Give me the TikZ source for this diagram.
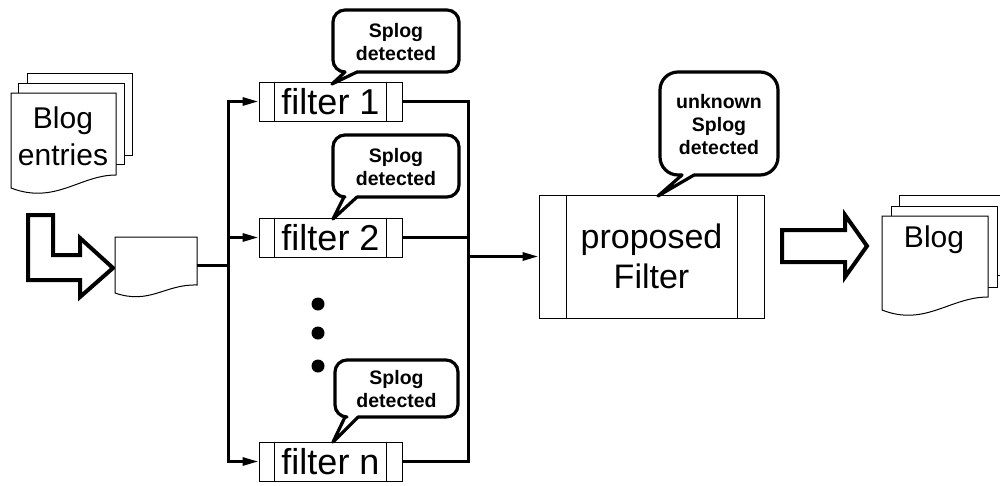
\documentclass[tikz,border=0pt]{standalone}
\usepackage{fontspec}
\setmainfont{Liberation Sans}
\usetikzlibrary{arrows.meta,calc}

% speech bubble: #1 left, #2 top, #3 right, #4 bottom, #5/#6 tail base x, #7 tip, #8 corner radius
\newcommand\SpeechBubble[8]{%
  \fill[white,rounded corners=#8] (#1,#2) rectangle (#3,#4);
  \fill[white] (#5,#4) -- #7 -- (#6,#4) -- cycle;
  \draw[bubbleline,rounded corners=#8] (#5,#4) -- (#1,#4) -- (#1,#2) -- (#3,#2) -- (#3,#4) -- (#6,#4);
  \draw[bubbleline] (#5,#4) -- #7 -- (#6,#4);
}

\begin{document}
\begin{tikzpicture}[x=1pt,y=-1pt,
  page/.style={draw=black,line width=1pt,fill=white,line join=miter},
  filterbox/.style={draw=black,line width=1pt,fill=white,minimum width=143pt,minimum height=39pt,
    inner sep=0pt,font=\fontsize{36}{40}\selectfont},
  bigfilter/.style={draw=black,line width=1pt,fill=white,minimum width=225pt,minimum height=123pt,
    inner sep=0pt,align=center,font=\fontsize{34}{40}\selectfont},
  innerline/.style={line width=1pt},
  bubbleline/.style={line width=3.2pt,line cap=round,line join=round},
  calltext/.style={inner sep=0pt,align=center,font=\bfseries\fontsize{19.5}{23}\selectfont},
  doclabel/.style={inner sep=0pt,align=center,font=\fontsize{30}{37}\selectfont},
  wire/.style={line width=3pt},
  feed/.style={wire,-{Triangle[length=16pt,width=8pt]}},
  blockarrow/.style={draw=black,line width=4pt,fill=white,line join=miter},
]
\useasboundingbox (0,0) rectangle (1000,485);
\clip (0,0) rectangle (1000,485);

% input document stack
\draw[page] (27,73) rectangle (132,155);
\draw[page] (18,83) rectangle (124,164);
\draw[page] (11,93) -- (116,93) -- (116,175) .. controls (80,175) and (55,205) .. (11,188) -- cycle;
\node[doclabel] (entries) at (63,136) {Blog\\entries};

% bent block arrow into the collector document
\draw[blockarrow] (28,215) -- (53,215) -- (53,255) -- (80,255) -- (80,238) -- (113,268)
  -- (80,297) -- (80,280) -- (28,280) -- cycle;

% collector document
\draw[page] (115,237) -- (197,237) -- (197,285) .. controls (165,284) and (150,305) .. (115,293) -- cycle;
\coordinate (docout) at (197,265);

% filter boxes
\node[filterbox] (f1) at (330.5,101.5) {filter 1};
\node[filterbox] (f2) at (330.5,237.5) {filter 2};
\node[filterbox] (fn) at (330.5,461.5) {filter n};
\foreach \f in {f1,f2,fn}{
  \draw[innerline] ($(\f.north west)+(16,0)$) -- ($(\f.south west)+(16,0)$);
  \draw[innerline] ($(\f.north east)+(-16,0)$) -- ($(\f.south east)+(-16,0)$);
}

% proposed filter
\node[bigfilter] (pf) at (651.5,256.5) {proposed\\Filter};
\draw[innerline] ($(pf.north west)+(28,0)$) -- ($(pf.south west)+(28,0)$);
\draw[innerline] ($(pf.north east)+(-27,0)$) -- ($(pf.south east)+(-27,0)$);

% fan-out bus
\coordinate (split) at (228,265);
\draw[wire] (docout) -- (split);
\draw[feed] (split) |- (f1.west);
\draw[feed] (split) |- (f2.west);
\draw[feed] (split) |- (fn.west);

% fan-in bus
\coordinate (merge) at (468,256.5);
\draw[wire] (f1.east) -| (merge);
\draw[wire] (f2.east) -| (merge);
\draw[wire] (fn.east) -| (merge);
\draw[feed] (merge) -- (pf.west);

% ellipsis between filters
\fill (318,304) circle (6.5pt);
\fill (318,333) circle (6.5pt);
\fill (318,366) circle (6.5pt);

% callouts
\SpeechBubble{333}{10}{459}{72}{345}{357}{(332,84)}{12pt}
\node[calltext] (c1) at (396,42) {Splog\\detected};
\SpeechBubble{333}{135}{459}{197}{344}{357}{(333,219)}{12pt}
\node[calltext] (c2) at (396,167) {Splog\\detected};
\SpeechBubble{335}{360}{458}{417}{345}{358}{(333,442)}{12pt}
\node[calltext] (cn) at (396.5,389) {Splog\\detected};
\SpeechBubble{660}{72}{778}{175}{682}{694}{(658,196)}{18pt}
\node[calltext] (cp) at (719,125) {unknown\\Splog\\detected};

% output block arrow
\draw[blockarrow] (782,230) -- (845,230) -- (845,215) -- (867,246) -- (845,277) -- (845,262)
  -- (782,262) -- cycle;

% output document stack
\draw[page] (899,195) rectangle (1012,275);
\draw[page] (891,206) rectangle (997,287);
\draw[page] (882,216) -- (988,216) -- (988,297) .. controls (950,297) and (925,327) .. (882,310) -- cycle;
\node[doclabel] (blogout) at (934,240) {Blog};
\end{tikzpicture}
\end{document}
